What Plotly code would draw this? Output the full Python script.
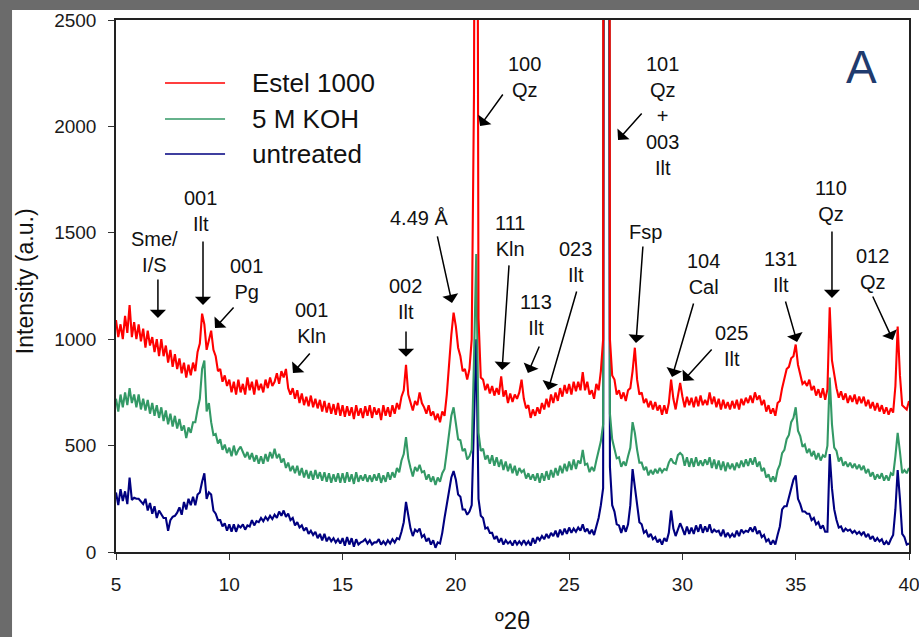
import plotly.graph_objects as go

# ---------------- data (2θ from 5.0 to 40.0 in 0.1° steps) ----------------
two_theta_start = 5.0
two_theta_step = 0.1

estel_1000 = [
    1090, 1010, 1070, 1000, 1110, 1030, 1160, 1010, 1080, 1000,
    1070, 990, 1050, 960, 1040, 970, 1010, 940, 1000, 920,
    1000, 920, 970, 890, 950, 870, 930, 860, 910, 840,
    890, 820, 880, 830, 890, 850, 940, 980, 1120, 1070,
    950, 1000, 1040, 950, 920, 850, 860, 800, 830, 780,
    810, 750, 800, 740, 810, 750, 790, 740, 820, 760,
    800, 740, 810, 760, 790, 750, 810, 770, 820, 780,
    800, 840, 790, 850, 820, 860, 770, 740, 770, 720,
    760, 700, 745, 690, 730, 685, 735, 680, 720, 675,
    715, 660, 710, 655, 700, 650, 695, 645, 700, 640,
    690, 635, 685, 640, 680, 625, 690, 640, 675, 630,
    685, 640, 690, 630, 680, 645, 675, 620, 690, 640,
    680, 635, 690, 650, 700, 670, 730, 760, 880, 740,
    700, 665, 710, 690, 750, 700, 680, 650, 690, 640,
    660, 620, 650, 610, 660, 640, 740, 900, 1020, 1125,
    1060, 960, 920, 850, 860, 810, 860, 1000, 2150, 6000,
    1100, 820, 810, 760, 790, 745, 780, 735, 770, 740,
    825, 730, 760, 700, 745, 705, 740, 720, 750, 810,
    720, 675, 690, 630, 670, 640, 680, 650, 700, 670,
    720, 680, 740, 700, 750, 710, 770, 730, 785, 745,
    790, 740, 800, 755, 800, 760, 845, 760, 800, 740,
    760, 720, 790, 760, 850, 1000, 22000, 15000, 1000, 830,
    810, 740, 760, 720, 750, 710, 760, 770, 850, 960,
    810, 740, 750, 700, 720, 680, 710, 670, 705, 665,
    690, 645, 690, 650, 700, 810, 720, 670, 730, 795,
    730, 680, 730, 690, 725, 680, 730, 685, 735, 690,
    715, 690, 750, 695, 730, 680, 720, 670, 715, 675,
    705, 670, 710, 675, 715, 670, 720, 690, 725, 700,
    735, 700, 750, 715, 735, 690, 715, 660, 690, 650,
    675, 640, 700, 710, 770, 810, 860, 870, 910, 920,
    975, 880, 840, 790, 800, 780, 810, 760, 780, 735,
    765, 725, 770, 715, 765, 1150, 900, 830, 770, 725,
    755, 715, 745, 700, 735, 705, 740, 695, 730, 700,
    730, 685, 715, 675, 705, 665, 700, 660, 690, 650,
    680, 645, 675, 655, 780, 1060, 830, 690, 680, 670,
    710,
]

koh_5m = [
    720, 660, 740, 680, 750, 690, 770, 700, 740, 680,
    740, 670, 720, 665, 715, 650, 700, 640, 690, 630,
    680, 615, 665, 600, 650, 590, 640, 580, 625, 570,
    595, 535, 585, 560, 610, 610, 670, 720, 860, 900,
    660, 700, 610, 550, 555, 510, 530, 480, 505, 465,
    490, 450, 500, 455, 480, 495, 470, 445, 470, 435,
    465, 425, 455, 415, 450, 415, 460, 425, 470, 440,
    485, 440, 460, 420, 440, 395, 420, 380, 405, 370,
    405, 360, 395, 350, 385, 345, 380, 340, 385, 345,
    375, 335, 375, 330, 370, 325, 365, 330, 370, 325,
    370, 325, 375, 330, 365, 320, 375, 330, 360, 335,
    365, 330, 360, 330, 365, 335, 370, 325, 360, 330,
    375, 340, 375, 350, 395, 375, 430, 460, 540, 440,
    395, 355, 400, 380, 410, 375, 380, 340, 365, 330,
    355, 315, 350, 330, 370, 390, 470, 560, 640, 680,
    610, 530, 525, 475, 485, 435, 450, 480, 900, 1400,
    560, 475, 485, 435, 455, 415, 455, 405, 445, 400,
    435, 385, 425, 380, 415, 370, 405, 360, 395, 375,
    385, 345, 370, 340, 365, 335, 370, 325, 370, 335,
    380, 340, 385, 350, 395, 360, 405, 370, 415, 380,
    425, 385, 435, 390, 430, 415, 480, 410, 415, 375,
    400, 380, 430, 470, 520, 600, 15000, 11000, 650, 530,
    490, 440, 445, 400, 425, 405, 450, 490, 610, 560,
    480, 420, 420, 385, 400, 360, 385, 365, 390, 370,
    395, 375, 390, 385, 420, 440, 420, 415, 455, 465,
    455, 405, 445, 400, 440, 400, 445, 405, 430, 405,
    435, 410, 445, 395, 435, 390, 430, 385, 425, 380,
    420, 390, 415, 385, 420, 395, 430, 400, 435, 405,
    440, 410, 445, 400, 425, 380, 395, 350, 365, 330,
    355, 330, 385, 410, 465, 480, 530, 550, 610, 630,
    680, 570, 545, 495, 505, 465, 485, 450, 475, 435,
    465, 430, 455, 445, 500, 820, 600, 490, 475, 425,
    445, 405, 425, 400, 420, 395, 415, 390, 410, 385,
    405, 370, 390, 355, 375, 340, 365, 345, 370, 335,
    360, 335, 370, 360, 450, 560, 470, 370, 385, 370,
    395,
]

untreated = [
    280, 220, 295, 240, 285, 225, 350, 245, 255, 250,
    250, 235, 225, 250, 195, 230, 180, 215, 160, 195,
    175, 160, 160, 100, 150, 165, 170, 185, 210, 175,
    235, 200, 250, 220, 260, 220, 270, 280, 330, 370,
    250, 280, 270, 195, 180, 150, 150, 120, 135, 100,
    130, 95, 130, 95, 125, 115, 130, 105, 125, 120,
    150, 125, 145, 140, 160, 145, 165, 150, 170, 155,
    175, 160, 190, 170, 195, 165, 180, 150, 160, 125,
    140, 115, 125, 100, 115, 85, 100, 80, 95, 65,
    85, 55, 85, 50, 70, 50, 65, 45, 60, 40,
    65, 30, 70, 35, 65, 25, 60, 35, 45, 50,
    60, 40, 55, 35, 45, 45, 60, 35, 50, 35,
    55, 40, 60, 45, 65, 60, 95, 140, 235, 170,
    110, 75, 105, 95, 110, 70, 80, 50, 65, 35,
    55, 20, 45, 40, 90, 160, 220, 300, 350, 380,
    340, 270, 260, 200, 200, 175, 190, 220, 600, 1000,
    250, 170, 160, 110, 115, 90, 90, 60, 75, 45,
    65, 35, 55, 40, 50, 30, 55, 35, 50, 35,
    55, 35, 50, 30, 65, 40, 70, 55, 75, 60,
    85, 65, 90, 75, 100, 70, 105, 80, 110, 85,
    115, 90, 110, 95, 115, 100, 130, 95, 110, 85,
    105, 80, 120, 160, 220, 300, 9000, 7000, 400, 220,
    190, 130, 125, 90, 125, 95, 130, 220, 390, 300,
    220, 140, 130, 90, 100, 70, 85, 60, 70, 45,
    60, 35, 65, 50, 90, 195, 110, 75, 105, 135,
    110, 80, 120, 85, 115, 85, 125, 95, 130, 90,
    120, 95, 130, 90, 105, 95, 100, 75, 105, 70,
    90, 70, 85, 70, 100, 75, 105, 90, 100, 95,
    115, 95, 120, 85, 100, 70, 80, 50, 60, 35,
    55, 35, 80, 120, 200, 215, 215, 255, 300, 340,
    360, 250, 225, 190, 190, 180, 180, 150, 160, 130,
    140, 110, 125, 95, 95, 460, 300, 200, 150, 115,
    120, 95, 110, 100, 105, 90, 100, 85, 95, 80,
    95, 70, 85, 60, 75, 50, 65, 50, 60, 35,
    50, 35, 60, 80, 200, 385, 250, 85, 70, 35,
    40,
]

series_names = ["Estel 1000", "5 M KOH", "untreated"]
series_values = [estel_1000, koh_5m, untreated]
series_colors = ["#ff0000", "#339966", "#000080"]

x_ticks = [5, 10, 15, 20, 25, 30, 35, 40]
y_ticks = [0, 500, 1000, 1500, 2000, 2500]

# peak labels: text, text centre (2θ, I), arrow tail (2θ, I), arrow head (2θ, I)
peak_labels = ["Sme/<br>I/S", "001<br>Ilt", "001<br>Pg", "001<br>Kln", "002<br>Ilt",
               "4.49 Å", "100<br>Qz", "101<br>Qz<br>+<br>003<br>Ilt", "111<br>Kln",
               "113<br>Ilt", "023<br>Ilt", "Fsp", "104<br>Cal", "025<br>Ilt",
               "131<br>Ilt", "110<br>Qz", "012<br>Qz"]
label_x = [6.72, 8.75, 10.74, 13.65, 17.76, 18.37, 23.01, 29.10, 22.39,
           23.54, 25.26, 28.39, 30.91, 32.16, 34.31, 36.56, 38.41]
label_y = [1410, 1603, 1285, 1074, 1191, 1570, 2232, 2047, 1485,
           1114, 1363, 1504, 1307, 968, 1318, 1650, 1330]
tail_x = [6.85, 8.84, 10.25, 13.61, 17.80, 19.17, 22.12, 28.26, 22.35,
          23.71, 25.35, 28.26, 30.51, 31.35, 34.53, 36.60, 38.37]
tail_y = [1288, 1466, 1156, 940, 1043, 1490, 2157, 2068, 1354,
          973, 1231, 1443, 1175, 959, 1184, 1513, 1208]
head_x = [6.85, 8.84, 9.37, 12.81, 17.80, 19.83, 21.07, 27.16, 22.04,
          23.18, 24.07, 27.95, 29.54, 30.03, 35.06, 36.60, 39.29]
head_y = [1100, 1161, 1053, 841, 917, 1170, 2002, 1936, 855,
          841, 761, 982, 822, 804, 987, 1194, 996]

FONT = "Liberation Sans, Arial, sans-serif"

fig = go.Figure()

# draw untreated first, Estel on top
for name, vals, col in reversed(list(zip(series_names, series_values, series_colors))):
    fig.add_trace(go.Scatter(
        x0=two_theta_start, dx=two_theta_step, y=vals, name=name,
        mode="lines", line=dict(color=col, width=2.1), showlegend=False,
    ))

annotations = []
for t, lx, ly in zip(peak_labels, label_x, label_y):
    annotations.append(dict(x=lx, y=ly, xref="x", yref="y", text=t, showarrow=False,
                            xanchor="center", yanchor="middle",
                            font=dict(family=FONT, size=20, color="#111111")))
for tx, ty, hx, hy in zip(tail_x, tail_y, head_x, head_y):
    annotations.append(dict(x=hx, y=hy, xref="x", yref="y", ax=tx, ay=ty,
                            axref="x", ayref="y", text="", showarrow=True,
                            arrowhead=1, arrowsize=1.8, arrowwidth=1.5,
                            arrowcolor="#000000", standoff=0))

# custom legend
legend_y = [0.8816, 0.8139, 0.7481]
shapes = [
    # white page on grey background
    dict(type="rect", xref="paper", yref="paper", x0=-0.1311, x1=1.02,
         y0=-0.17, y1=1.0188, fillcolor="white", line=dict(width=0), layer="below"),
]
for name, col, ly in zip(series_names, series_colors, legend_y):
    shapes.append(dict(type="line", xref="paper", yref="paper", x0=0.0618, x1=0.1375,
                       y0=ly, y1=ly, line=dict(color=col, width=2), opacity=0.75))
    annotations.append(dict(x=0.169, y=ly, xref="paper", yref="paper", text=name,
                            showarrow=False, xanchor="left", yanchor="middle",
                            font=dict(family=FONT, size=26, color="#111111")))

# panel letter and axis titles
annotations.append(dict(x=0.9407, y=0.9117, xref="paper", yref="paper", text="A",
                        showarrow=False, xanchor="center", yanchor="middle",
                        font=dict(family=FONT, size=46, color="#1f3b6e")))
annotations.append(dict(x=-0.1148, y=0.509, xref="paper", yref="paper",
                        text="Intensity (a.u.)", textangle=-90, showarrow=False,
                        xanchor="center", yanchor="middle",
                        font=dict(family=FONT, size=23, color="#111111")))
annotations.append(dict(x=0.4994, y=-0.128, xref="paper", yref="paper",
                        text="º2θ", showarrow=False, xanchor="center", yanchor="middle",
                        font=dict(family=FONT, size=24, color="#111111")))

fig.update_layout(
    width=919, height=637,
    margin=dict(l=116, r=10, t=20, b=85),
    paper_bgcolor="#6b6b6b", plot_bgcolor="white",
    shapes=shapes, annotations=annotations,
    showlegend=False,
)
fig.update_xaxes(range=[5, 40], tickvals=x_ticks, ticks="outside", ticklen=6,
                 tickcolor="#333333", showgrid=False, zeroline=False, automargin=False,
                 showline=True, linecolor="#222222", linewidth=1.5, mirror=True,
                 tickfont=dict(family=FONT, size=19, color="#1a1a1a"),
                 ticklabelstandoff=8, ticklabeloverflow="allow")
fig.update_yaxes(range=[0, 2500], tickvals=y_ticks, ticks="outside", ticklen=6,
                 tickcolor="#333333", showgrid=False, zeroline=False, automargin=False,
                 showline=True, linecolor="#222222", linewidth=1.5, mirror=True,
                 tickfont=dict(family=FONT, size=19, color="#1a1a1a"),
                 ticklabelstandoff=8, ticklabeloverflow="allow")

fig.write_html(
    "out.html",
    config={"displayModeBar": False},
    post_script="document.body.style.margin='0px';document.body.style.background='#6b6b6b';",
)
